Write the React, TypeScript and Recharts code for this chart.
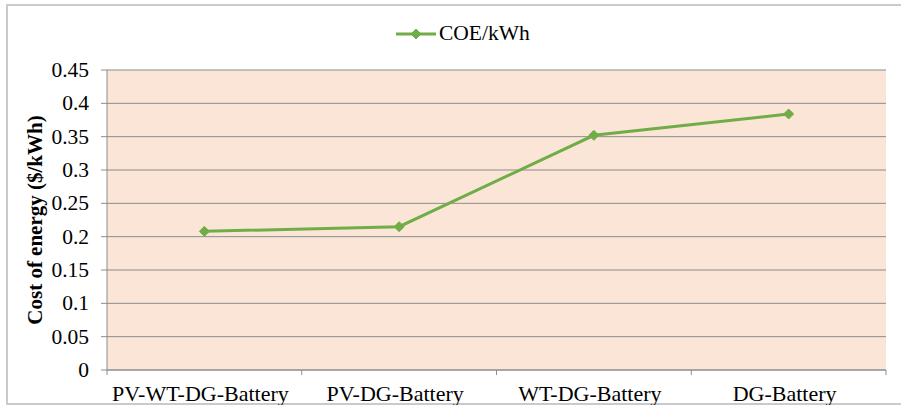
import { CartesianGrid, Label, Legend, Line, LineChart, XAxis, YAxis } from "recharts";

const CATEGORIES = ["PV-WT-DG-Battery", "PV-DG-Battery", "WT-DG-Battery", "DG-Battery"];
const COE_VALUES = [0.208, 0.215, 0.352, 0.384];
const Y_TICKS = [0, 0.05, 0.1, 0.15, 0.2, 0.25, 0.3, 0.35, 0.4, 0.45];
const X_TICKS = [0, 0.5, 1, 1.5, 2, 2.5, 3, 3.5, 4];

const GREEN = "#70AD47";
const GRID = "#8c8c8c";
const FONT = '"Liberation Serif", "Times New Roman", serif';

const data = CATEGORIES.map((name, i) => ({ pos: i + 0.5, name, coe: COE_VALUES[i] }));

function Diamond({ cx, cy, r = 5 }: { cx: number; cy: number; r?: number }) {
  return (
    <polygon
      points={`${cx},${cy - r} ${cx + r},${cy} ${cx},${cy + r} ${cx - r},${cy}`}
      fill={GREEN}
      stroke={GREEN}
    />
  );
}

// ticks at integer positions are the boundary marks, half positions carry the labels
function CategoryTick(props: any) {
  const { x, y, payload } = props;
  const v = payload.value as number;
  if (Number.isInteger(v)) {
    return <line x1={x} x2={x} y1={y - 5} y2={y} stroke={GRID} />;
  }
  return (
    <text x={x - 4} y={y + 26} textAnchor="middle" fill="#000" fontSize={22} style={{ fontFamily: FONT }}>
      {CATEGORIES[Math.floor(v)]}
    </text>
  );
}

function ValueTick(props: any) {
  const { x, y, payload } = props;
  return (
    <text x={x} y={y} dy={7} textAnchor="end" fill="#000" fontSize={21.5} style={{ fontFamily: FONT }}>
      {String(payload.value)}
    </text>
  );
}

function LegendContent() {
  return (
    <div style={{ display: "flex", alignItems: "center", fontFamily: FONT, fontSize: 21.5, color: "#000" }}>
      <svg width={40} height={12} style={{ marginRight: 3 }}>
        <line x1={0} x2={40} y1={6} y2={6} stroke={GREEN} strokeWidth={3} />
        <Diamond cx={20} cy={6} r={5} />
      </svg>
      <span>COE/kWh</span>
    </div>
  );
}

export default function App() {
  return (
    <div style={{ position: "absolute", left: 0, top: 0, width: 901, height: 405, background: "#fff", overflow: "hidden" }}>
      <div
        style={{
          position: "absolute",
          left: 6,
          top: 4,
          width: 900,
          height: 401,
          border: "2px solid #cacaca",
          boxSizing: "border-box",
        }}
      />
      <LineChart
        width={901}
        height={405}
        data={data}
        margin={{ top: 70, right: 15, left: 0, bottom: 0 }}
        style={{ position: "absolute", left: 0, top: 0, fontFamily: FONT }}
      >
        <CartesianGrid vertical={false} stroke={GRID} fill="#FBE5D6" fillOpacity={1} />
        <XAxis
          dataKey="pos"
          type="number"
          domain={[0, 4]}
          ticks={X_TICKS}
          interval={0}
          tick={<CategoryTick />}
          tickLine={false}
          tickSize={5}
          tickMargin={0}
          axisLine={{ stroke: GRID }}
          height={35}
        />
        <YAxis
          domain={[0, 0.45]}
          ticks={Y_TICKS}
          interval={0}
          width={107}
          tickSize={6}
          tickMargin={12}
          tickLine={{ stroke: GRID }}
          axisLine={{ stroke: GRID }}
          tick={<ValueTick />}
        >
          <Label
            content={(p: any) => {
              const vb = p.viewBox;
              const cx = vb.x + 35;
              const cy = vb.y + vb.height / 2;
              return (
                <text
                  x={cx}
                  y={cy}
                  transform={`rotate(-90, ${cx}, ${cy})`}
                  textAnchor="middle"
                  dominantBaseline="central"
                  fontSize={21}
                  fontWeight="bold"
                  style={{ fontFamily: FONT }}
                  fill="#000"
                >
                  Cost of energy ($/kWh)
                </text>
              );
            }}
          />
        </YAxis>
        <Legend
          verticalAlign="middle"
          layout="horizontal"
          align="center"
          content={<LegendContent />}
          wrapperStyle={{ top: 21, left: 396, width: 200, height: 26 }}
        />
        <Line
          dataKey="coe"
          name="COE/kWh"
          stroke={GREEN}
          strokeWidth={3}
          isAnimationActive={false}
          dot={(p: any) => <Diamond key={p.index} cx={p.cx} cy={p.cy} />}
          activeDot={false}
        />
      </LineChart>
    </div>
  );
}
